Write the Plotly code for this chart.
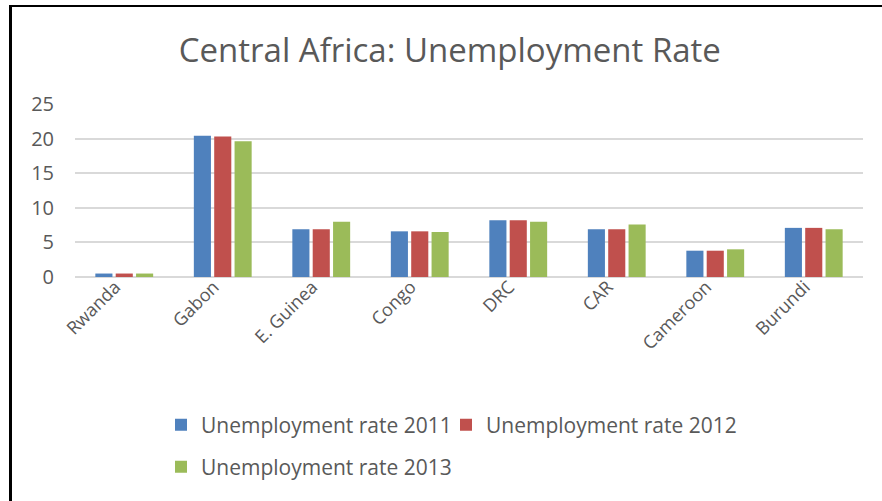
import plotly.graph_objects as go

countries = ["Rwanda", "Gabon", "E. Guinea", "Congo", "DRC", "CAR", "Cameroon", "Burundi"]
rate_2011 = [0.5, 20.4, 6.9, 6.6, 8.2, 6.9, 3.8, 7.1]
rate_2012 = [0.5, 20.3, 6.9, 6.6, 8.2, 6.9, 3.8, 7.1]
rate_2013 = [0.5, 19.6, 8.0, 6.5, 8.0, 7.6, 4.0, 6.9]
series_names = ["Unemployment rate 2011", "Unemployment rate 2012", "Unemployment rate 2013"]
colors = ["#4F81BD", "#C0504D", "#9BBB59"]
legend_ids = ["legend", "legend2", "legend3"]

W, H = 882, 501
L, R, T, B = 75, 19, 104, 224
pw, ph = W - L - R, H - T - B

fig = go.Figure()
for name, vals, c, lg in zip(series_names, [rate_2011, rate_2012, rate_2013], colors, legend_ids):
    fig.add_trace(go.Bar(x=countries, y=vals, name=name, legend=lg, showlegend=True,
                         marker=dict(color=c, line=dict(width=0))))

font_fam = "Open Sans, Noto Sans, sans-serif"
grey = "#595959"

def px2x(px):
    return (px - L) / pw

def py2y(py):
    return (H - B - py) / ph

leg_common = dict(orientation="h", xanchor="left", yanchor="middle",
                  font=dict(size=21, color=grey), itemwidth=30, traceorder="normal",
                  bgcolor="rgba(0,0,0,0)", visible=True)

fig.update_layout(
    width=W, height=H,
    margin=dict(l=L, r=R, t=T, b=B),
    showlegend=True,
    paper_bgcolor="white", plot_bgcolor="white",
    barmode="group", bargap=0.38, bargroupgap=0.16,
    title=dict(text="Central Africa: Unemployment Rate", x=0.51, xref="container", xanchor="center",
               y=1 - 50 / H, yref="container", yanchor="middle",
               font=dict(family=font_fam, size=33, color=grey)),
    font=dict(family=font_fam, color=grey),
    xaxis=dict(tickangle=-45, tickfont=dict(size=18, color=grey), showline=False, ticks="",
               showgrid=False, ticklabelshift=-9, ticklabelstandoff=-5),
    yaxis=dict(range=[0, 25], dtick=5, tickfont=dict(size=20, color=grey), showgrid=True,
               gridcolor="#D9D9D9", gridwidth=1.5, zeroline=True, zerolinecolor="#D9D9D9",
               zerolinewidth=1.5, ticks="", showline=False, ticklabelstandoff=20),
    legend=dict(x=px2x(161), y=py2y(425), **leg_common),
    legend2=dict(x=px2x(446), y=py2y(425), **leg_common),
    legend3=dict(x=px2x(161), y=py2y(467), **leg_common),
    shapes=[
        dict(type="line", xref="paper", yref="paper", x0=px2x(10.5), x1=px2x(10.5), y0=py2y(5), y1=py2y(H + 2),
             line=dict(color="black", width=3)),
        dict(type="line", xref="paper", yref="paper", x0=px2x(9), x1=px2x(W + 2), y0=py2y(6), y1=py2y(6),
             line=dict(color="black", width=2)),
    ],
)

fig.write_html("out.html")
